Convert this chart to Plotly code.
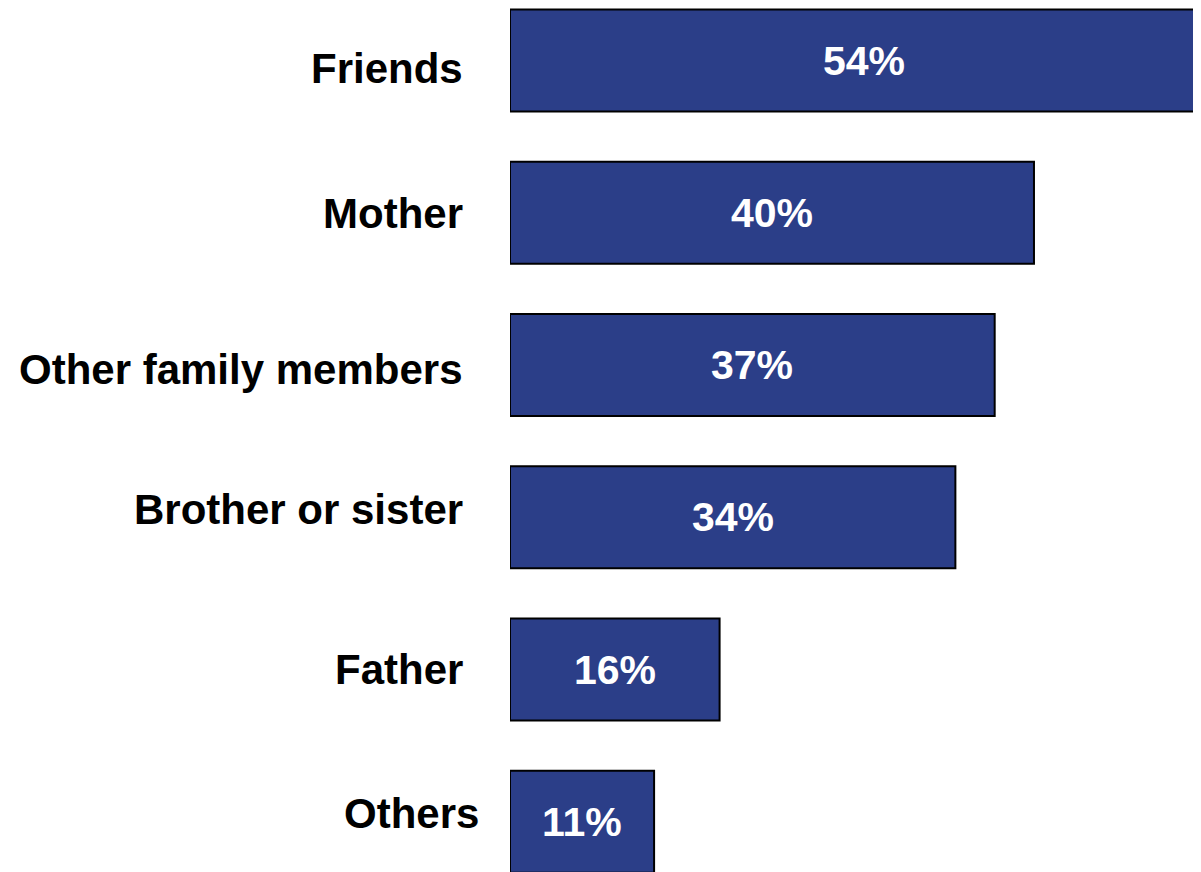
import plotly.graph_objects as go

categories = ["Friends", "Mother", "Other family members", "Brother or sister", "Father", "Others"]
values = [54, 40, 37, 34, 16, 11]
value_labels = ["54%", "40%", "37%", "34%", "16%", "11%"]

# styling offsets (pixels) for the category labels
label_yshift = [-8, -1, -4, 8, 0, 8]
label_xshift = [-45, -45, -45, -45, -45, -29]

BAR_COLOR = "#2B3E88"
FONT = "Arial, Liberation Sans, sans-serif"

fig = go.Figure()
fig.add_trace(go.Bar(
    y=categories,
    x=values,
    orientation="h",
    width=0.67,
    marker=dict(color=BAR_COLOR, line=dict(color="black", width=2)),
    hoverinfo="skip",
))

annotations = []
for cat, v, lab, ys, xs in zip(categories, values, value_labels, label_yshift, label_xshift):
    annotations.append(dict(
        x=0, xref="paper", y=cat, yref="y",
        text=f"<b>{cat}</b>", showarrow=False,
        xanchor="right", yanchor="middle", xshift=xs, yshift=ys,
        font=dict(family=FONT, size=42, color="black"),
    ))
    annotations.append(dict(
        x=v / 2, xref="x", y=cat, yref="y",
        text=f"<b>{lab}</b>", showarrow=False,
        xanchor="center", yanchor="middle",
        font=dict(family=FONT, size=41, color="white"),
    ))

fig.update_layout(
    width=1193, height=864,
    margin=dict(l=502, r=0, t=0, b=0),
    paper_bgcolor="white", plot_bgcolor="white",
    showlegend=False,
    xaxis=dict(range=[0, 52.75], visible=False, fixedrange=True),
    yaxis=dict(type="category", categoryorder="array", categoryarray=categories,
               range=[5.33, -0.345], visible=False, fixedrange=True),
    annotations=annotations,
)

fig.write_html("out.html")
